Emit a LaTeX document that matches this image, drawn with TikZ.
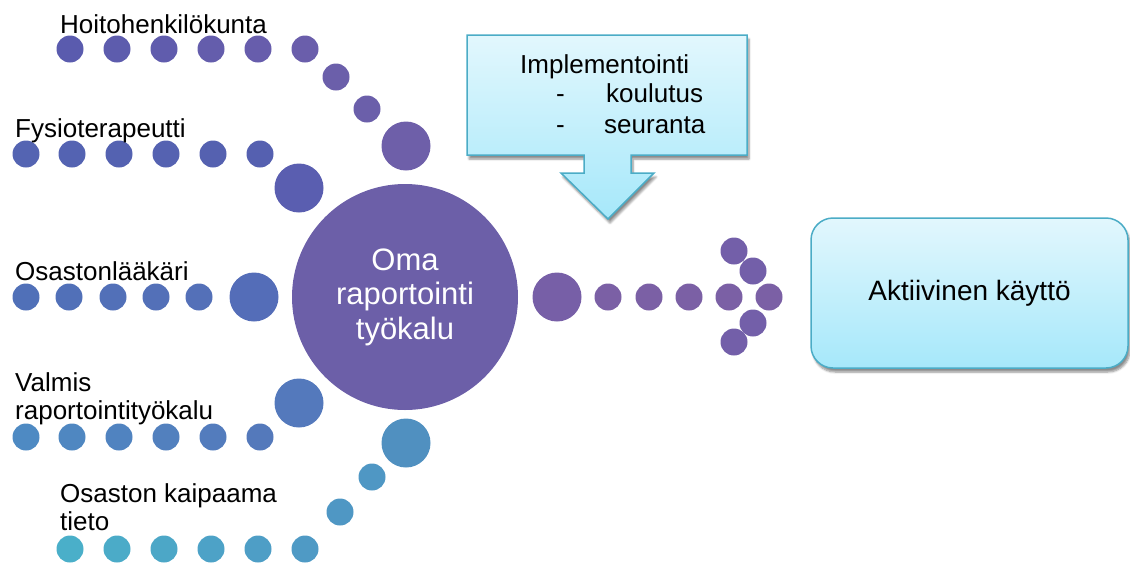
\documentclass[tikz,border=0pt]{standalone}
\usepackage{fontspec}
\setmainfont{Liberation Sans}
\usetikzlibrary{shadows.blur}
\definecolor{r1a}{HTML}{5A5BAE}
\definecolor{r1b}{HTML}{6A5EAB}
\definecolor{r1d}{HTML}{6B5FAA}
\definecolor{r1big}{HTML}{6E5FA9}
\definecolor{r2a}{HTML}{5464B2}
\definecolor{r2b}{HTML}{5560B0}
\definecolor{r2big}{HTML}{5A5EB0}
\definecolor{r3a}{HTML}{5070B8}
\definecolor{r3b}{HTML}{5470B8}
\definecolor{r3big}{HTML}{546DB8}
\definecolor{r4a}{HTML}{4E8AC3}
\definecolor{r4b}{HTML}{5479BB}
\definecolor{r4big}{HTML}{5479BC}
\definecolor{r5a}{HTML}{4AAFC9}
\definecolor{r5b}{HTML}{4F9AC5}
\definecolor{r5d}{HTML}{4F97C4}
\definecolor{r5big}{HTML}{5090C0}
\definecolor{omac}{HTML}{6C5FA8}
\definecolor{rbig}{HTML}{775FA7}
\definecolor{rsmall}{HTML}{7B60A5}
\definecolor{rhead}{HTML}{735FA9}
\definecolor{boxtop}{HTML}{E2F7FD}
\definecolor{boxbot}{HTML}{A6E8FA}
\definecolor{boxline}{HTML}{4BACC6}
\begin{document}
\begin{tikzpicture}[x=1pt,y=-1pt,
  dot/.style={circle, inner sep=0pt, minimum size=27pt, fill=#1},
  bigdot/.style={circle, inner sep=0pt, minimum size=49pt, fill=#1},
  lbl/.style={anchor=base west, inner sep=0pt, font=\fontsize{26}{28}\selectfont, align=left},
  boxtxt/.style={anchor=base west, inner sep=0pt, font=\fontsize{26}{28}\selectfont},
  lightbox/.style={top color=boxtop, bottom color=boxbot, draw=boxline, line width=1.5pt,
    blur shadow={shadow xshift=2pt, shadow yshift=-4pt, shadow blur steps=6, shadow opacity=45}}]
\useasboundingbox (0,0) rectangle (1130,563);

% Row 1
\foreach \x [count=\i, evaluate=\i as \p using {int(100*(\i-1)/5)}] in {70,117,164,211,258,305}
  \node[dot=r1b!\p!r1a] (h\i) at (\x,49) {};
\node[dot=r1d] (h7) at (336,77) {};
\node[dot=r1d] (h8) at (367,109) {};
\node[bigdot=r1big] (h9) at (406,146) {};
\node[lbl] (hl) at (60,33) {Hoitohenkilökunta};

% Row 2
\foreach \x [count=\i, evaluate=\i as \p using {int(100*(\i-1)/5)}] in {26,72,119,166,213,260}
  \node[dot=r2b!\p!r2a] (f\i) at (\x,154) {};
\node[bigdot=r2big] (f7) at (299,188) {};
\node[lbl] (fl) at (15,137) {Fysioterapeutti};

% Row 3
\foreach \x [count=\i, evaluate=\i as \p using {int(100*(\i-1)/4)}] in {26,69,113,156,199}
  \node[dot=r3b!\p!r3a] (o\i) at (\x,297) {};
\node[bigdot=r3big] (o6) at (254,297) {};
\node[lbl] (ol) at (15,280) {Osastonlääkäri};

% Row 4
\foreach \x [count=\i, evaluate=\i as \p using {int(100*(\i-1)/5)}] in {26,72,119,166,213,260}
  \node[dot=r4b!\p!r4a] (v\i) at (\x,437) {};
\node[bigdot=r4big] (v7) at (299,403) {};
\node[lbl] (vl) at (15,419) {Valmis\\raportointityökalu};

% Row 5
\foreach \x [count=\i, evaluate=\i as \p using {int(100*(\i-1)/5)}] in {70,117,164,211,258,305}
  \node[dot=r5b!\p!r5a] (k\i) at (\x,549) {};
\node[dot=r5d] (k7) at (340,512) {};
\node[dot=r5d] (k8) at (372,477) {};
\node[bigdot=r5big] (k9) at (406,443) {};
\node[lbl] (kl) at (60,530) {Osaston kaipaama\\tieto};

% Center
\node[circle, inner sep=0pt, minimum size=226pt, fill=omac, text=white, align=center,
  font=\fontsize{31}{34.5}\selectfont] (oma) at (405,297) {Oma\\raportointi\\työkalu};

% Right arrow of dots
\node[bigdot=rbig] (a0) at (557,297) {};
\foreach \x [count=\i] in {608,649,689,729,769}
  \node[dot=rsmall] (a\i) at (\x,297) {};
\node[dot=rhead] (b1) at (734,251) {};
\node[dot=rhead] (b2) at (753,271) {};
\node[dot=rhead] (b3) at (753,323) {};
\node[dot=rhead] (b4) at (734,342) {};

% Implementation callout arrow
\path[lightbox] (467,35) -- (747,35) -- (747,155) -- (631,155) -- (631,173) -- (654,173)
  -- (608,219) -- (561,173) -- (584,173) -- (584,155) -- (467,155) -- cycle;
\node[boxtxt] (i0) at (520,73) {Implementointi};
\node[boxtxt] (i1) at (556,102) {-};
\node[boxtxt] (i2) at (606,102) {koulutus};
\node[boxtxt] (i3) at (556,133) {-};
\node[boxtxt] (i4) at (604,133) {seuranta};

% Aktiivinen kaytto box
\node[lightbox, rounded corners=22pt, minimum width=317pt, minimum height=150pt,
  inner sep=0pt, font=\fontsize{28}{30}\selectfont] (akt) at (969.5,293) {Aktiivinen käyttö};
\end{tikzpicture}
\end{document}
